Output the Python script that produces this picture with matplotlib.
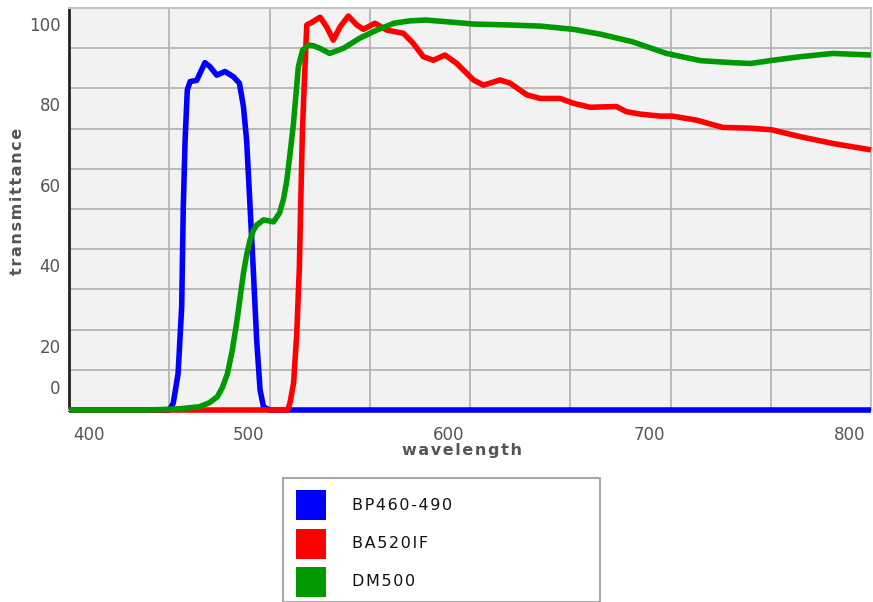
import matplotlib.pyplot as plt
from matplotlib.patches import Rectangle
from matplotlib.transforms import ScaledTranslation

# transmission curves (wavelength in nm, transmittance in %)
bp_wl = [400, 450, 452, 454.4, 456.2, 457, 457.9, 459, 460.4, 463.7, 467.8, 470.3,
         473.7, 477.8, 482, 485, 487, 488.6, 490.3, 492, 493.6, 495.3, 497, 500, 800]
bp_tr = [0, 0, 1.7, 9, 25.6, 50.5, 67, 79.6, 81.7, 82, 86.4, 85.4,
         83.3, 84.2, 82.9, 81.3, 75.5, 67, 50.6, 34, 17.4, 5, 0.8, 0, 0]

ba_wl = [400, 509, 510.2, 512, 513.6, 514.9, 515.6, 516.4, 517, 517.7, 518.6, 521,
         525.2, 528.5, 531.8, 535.2, 539.3, 543.5, 546.8, 552.6, 558.5, 566.8, 571.7,
         576.7, 581.7, 587.5, 593.4, 595, 601.7, 606.7, 615, 620, 628.3, 635, 645,
         651.5, 660, 673, 678, 685, 695, 701, 713, 726, 740, 750.5, 764.6, 781, 800]
ba_tr = [0, 0, 1.7, 6.7, 19, 35.6, 52, 69, 77, 85.4, 95.8, 96.4,
         97.7, 95.3, 92, 95.3, 98, 95.8, 94.7, 96.2, 94.5, 93.7, 91.2,
         87.9, 87, 88.3, 86.2, 85.4, 82.1, 80.8, 82.1, 81.3, 78.4, 77.5, 77.5,
         76.3, 75.3, 75.5, 74.2, 73.6, 73.1, 73.1, 72.1, 70.3, 70.1, 69.7, 68, 66.3, 64.7]

dm_wl = [400, 440, 455, 465, 470, 474, 476.5, 479, 481.3, 483.6, 485.3, 487, 488.6,
         490.3, 491.9, 493.6, 497, 502, 505, 507, 508.6, 510.3, 511.9, 513.2, 514.4,
         516.5, 519.4, 522, 525, 530, 537, 545, 553.5, 562, 570, 578, 588,
         602, 618, 635, 651.5, 665, 681, 698, 715, 731, 740, 751, 765, 781, 800]
dm_tr = [0, 0, 0.3, 0.8, 1.8, 3.3, 5.6, 9, 14.5, 21.6, 27.8, 34, 38.6,
         42.3, 44.6, 46, 47.3, 46.8, 49, 52.5, 57, 64, 71, 78.5, 85.4,
         89.5, 90.8, 90.6, 90, 88.7, 90, 92.5, 94.5, 96.2, 96.8, 97, 96.6,
         96, 95.8, 95.5, 94.7, 93.5, 91.6, 88.7, 86.9, 86.4, 86.2, 87, 87.9, 88.7, 88.3]

names = ["BP460-490", "BA520IF", "DM500"]
colors = ["#0000ff", "#ff0000", "#009900"]

x_ticks = [400, 500, 600, 700, 800]
y_ticks = [0, 20, 40, 60, 80, 100]

W, H = 873, 602
fig = plt.figure(figsize=(W / 100, H / 100), dpi=100)
ax = fig.add_axes([69 / W, 1 - 410 / H, 802 / W, 402 / H])
ax.set_facecolor("#f2f2f2")
ax.set_xlim(400, 800)
ax.set_ylim(0, 100)

# grid every 50 nm / 10 %
for gx in range(450, 800, 50):
    ax.axvline(gx, color="#b4b4b4", lw=1.3, zorder=1)
for gy in range(10, 100, 10):
    ax.axhline(gy, color="#b4b4b4", lw=1.3, zorder=1)

line_kw = dict(lw=4, clip_on=False, solid_joinstyle="round", solid_capstyle="butt")
ax.plot(bp_wl, bp_tr, color=colors[0], zorder=3, **line_kw)
ax.plot(ba_wl, ba_tr, color=colors[1], zorder=4, **line_kw)
ax.plot(dm_wl, dm_tr, color=colors[2], zorder=5, **line_kw)

for side in ["top", "right", "bottom"]:
    ax.spines[side].set_color("#c4c4c4")
    ax.spines[side].set_linewidth(1.5)
ax.spines["left"].set_color("#222222")
ax.spines["left"].set_linewidth(2)
ax.set_xticks([])
ax.set_yticks([])

# tick labels sit a little off their grid lines
tick_col = "#555555"
for v in x_ticks:
    dx = 3 / 72 if v == x_ticks[0] else -4 / 72
    ha = "left" if v == x_ticks[0] else "right"
    tr = ax.get_xaxis_transform() + ScaledTranslation(dx, -18 / 72, fig.dpi_scale_trans)
    ax.text(v, 0, str(v), transform=tr, ha=ha, va="center", fontsize=12, color=tick_col)
for v in y_ticks:
    dy = 15 / 72 if v == 0 else -13 / 72
    tr = ax.get_yaxis_transform() + ScaledTranslation(-6 / 72, dy, fig.dpi_scale_trans)
    ax.text(0, v, str(v), transform=tr, ha="right", va="center", fontsize=12, color=tick_col)

sp = "\u200a"
fig.text(462 / W, 1 - 450 / H, sp.join("wavelength"), ha="center", va="center",
         fontsize=11.5, fontweight="bold", color="#555555")
fig.text(18 / W, 1 - 201 / H, sp.join("transmittance"), ha="center", va="center",
         rotation=90, fontsize=11.5, fontweight="bold", color="#555555")

# legend box, cut off by the bottom edge
fig.patches.append(Rectangle((283 / W, 0), 317 / W, (602 - 478) / H, transform=fig.transFigure,
                             facecolor="white", edgecolor="#a8a8a8", lw=1.5))
for i, (name, c) in enumerate(zip(names, colors)):
    top = 490 + i * 38.5
    fig.patches.append(Rectangle((296 / W, 1 - (top + 30) / H), 30 / W, 30 / H,
                                 transform=fig.transFigure, facecolor=c, edgecolor="none"))
    fig.text(352 / W, 1 - (top + 15) / H, sp.join(name), ha="left", va="center",
             fontsize=11.5, color="#111111")

fig.savefig("out.png", dpi=100)
